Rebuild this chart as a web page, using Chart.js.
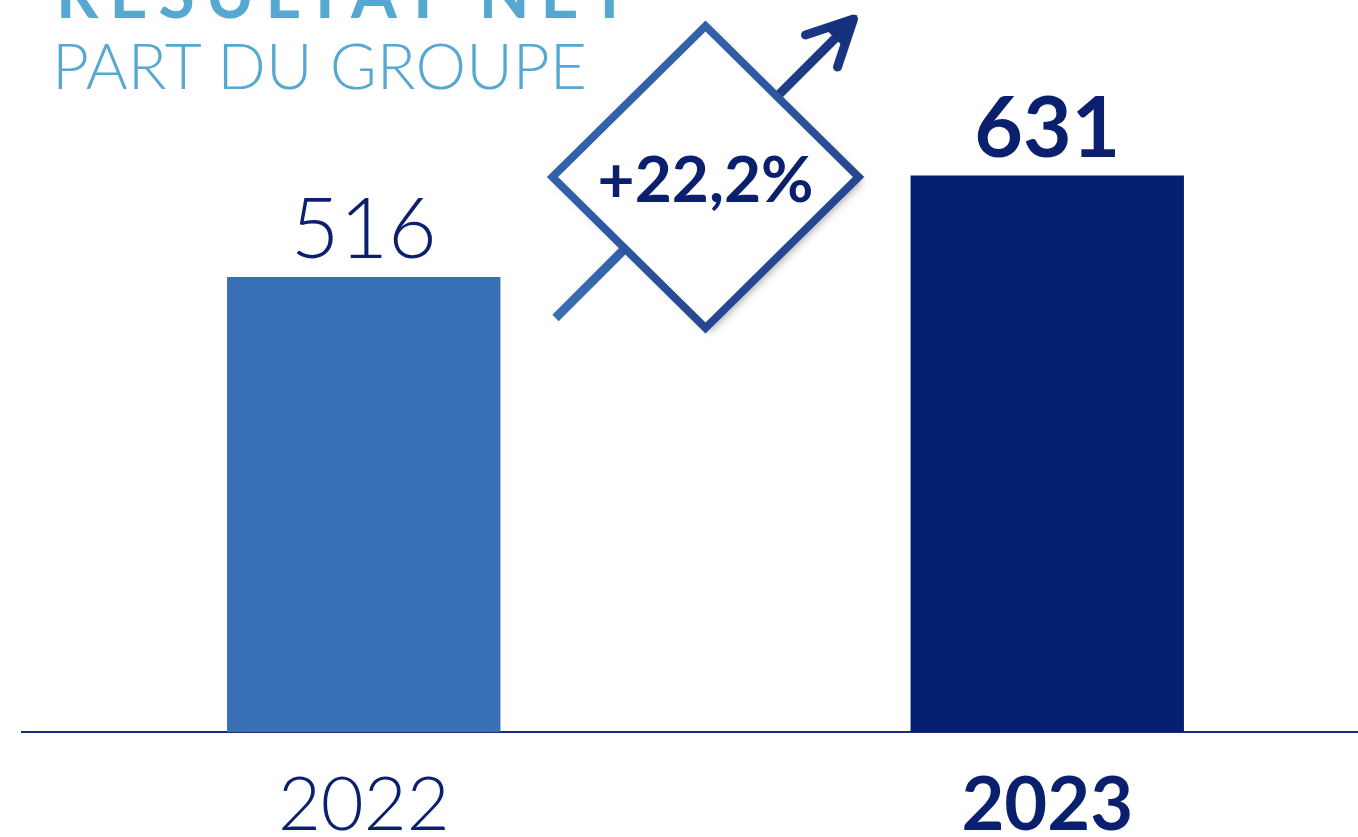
<!DOCTYPE html>
<html>
<head>
<meta charset="utf-8">
<script src="https://cdn.jsdelivr.net/npm/chart.js@4"></script>
<style>
  html, body { margin: 0; padding: 0; background: #fff; overflow: hidden; width: 1358px; height: 837px; }
  #wrap { position: relative; width: 1358px; height: 837px; overflow: hidden; }
  #myChart { position: absolute; left: 0; top: 0; }
  .t1 { position: absolute; left: 56px; top: -47px; font: 700 66px Lato, sans-serif; color: #56A8D0; letter-spacing: 11px; white-space: nowrap; }
  .t2 { position: absolute; left: 52px; top: 26px; font: 300 64px Lato, sans-serif; color: #56A8D0; letter-spacing: 0px; white-space: nowrap; }
</style>
</head>
<body>
<div id="wrap">
  <canvas id="myChart" width="1400" height="837"></canvas>
  <div class="t1">RÉSULTAT NET</div>
  <div class="t2">PART DU GROUPE</div>
</div>
<script>
let years = ['2022', '2023'];
let resultat = [516, 631];
let barColors = ['#396FB4', '#051F70'];
let growth = '+22,2%';

var navy = '#0A1F6E';

// value labels above each bar
let valueLabels = {
    id: 'valueLabels',
    afterDatasetsDraw(chart) {
        let ctx = chart.ctx;
        let meta = chart.getDatasetMeta(0);
        ctx.save();
        ctx.fillStyle = navy;
        ctx.textAlign = 'center';
        ctx.textBaseline = 'alphabetic';
        meta.data.forEach(function (bar, i) {
            ctx.font = (i == 1 ? '700 ' : '300 ') + '84px Lato, sans-serif';
            ctx.fillText(String(resultat[i]), bar.x, bar.y - 19);
        });
        ctx.restore();
    }
};

// diamond with arrow between the bars
let badge = {
    id: 'badge',
    afterDraw(chart) {
        let ctx = chart.ctx;
        let meta = chart.getDatasetMeta(0);
        let cx = (meta.data[0].x + meta.data[1].x) / 2;
        let cy = 177;
        let r = 151;
        ctx.save();

        // arrow
        let g = ctx.createLinearGradient(cx - 150, cy + 140, cx + 150, cy - 160);
        g.addColorStop(0, '#3A6FB4');
        g.addColorStop(1, '#17307E');
        ctx.strokeStyle = g;
        ctx.lineWidth = 9;
        ctx.lineCap = 'butt';
        ctx.beginPath();
        ctx.moveTo(cx - 150, cy + 141);
        ctx.lineTo(cx + 143, cy - 152);
        ctx.stroke();
        ctx.lineCap = 'round';
        ctx.lineJoin = 'round';
        ctx.beginPath();
        ctx.moveTo(cx + 100, cy - 142);
        ctx.lineTo(cx + 148, cy - 158);
        ctx.lineTo(cx + 132, cy - 110);
        ctx.stroke();
        ctx.fillStyle = '#17307E';
        ctx.beginPath();
        ctx.moveTo(cx + 152, cy - 162);
        ctx.lineTo(cx + 118, cy - 150);
        ctx.lineTo(cx + 140, cy - 128);
        ctx.closePath();
        ctx.fill();

        // diamond
        ctx.beginPath();
        ctx.moveTo(cx, cy - r);
        ctx.lineTo(cx + r + 2, cy);
        ctx.lineTo(cx, cy + r);
        ctx.lineTo(cx - r - 2, cy);
        ctx.closePath();
        ctx.shadowColor = 'rgba(0,0,0,0.35)';
        ctx.shadowBlur = 8;
        ctx.shadowOffsetX = 4;
        ctx.shadowOffsetY = 4;
        ctx.fillStyle = '#fff';
        ctx.fill();
        ctx.shadowColor = 'transparent';
        let g2 = ctx.createLinearGradient(cx - r, cy - r, cx + r, cy + r);
        g2.addColorStop(0, '#3A6FB4');
        g2.addColorStop(1, '#1E3A86');
        ctx.strokeStyle = g2;
        ctx.lineWidth = 8;
        ctx.lineJoin = 'miter';
        ctx.stroke();

        ctx.fillStyle = navy;
        ctx.font = '700 64px Lato, sans-serif';
        ctx.textAlign = 'center';
        ctx.textBaseline = 'alphabetic';
        ctx.fillText(growth, cx, cy + 25);
        ctx.restore();
    }
};

var ct = document.getElementById('myChart');
let chart = new Chart(ct, {
    type: 'bar',
    data: {
        labels: years,
        datasets: [{
            label: 'Résultat net',
            data: resultat,
            backgroundColor: barColors,
            borderWidth: 0,
            barPercentage: 0.4,
            categoryPercentage: 1
        }]
    },
    options: {
        responsive: false,
        devicePixelRatio: 1,
        animation: false,
        layout: { padding: { left: 22, right: 11, top: 0, bottom: 0 } },
        plugins: {
            legend: { display: false },
            tooltip: { enabled: false }
        },
        scales: {
            y: {
                display: false,
                min: 0,
                max: 830
            },
            x: {
                grid: { display: false, drawTicks: false },
                border: { display: true, color: '#1B2C7C', width: 2 },
                afterFit: function (scale) { scale.height = 105; },
                ticks: {
                    color: navy,
                    padding: 30,
                    font: function (c) {
                        return { family: 'Lato, sans-serif', size: 74, weight: c.index == 1 ? '700' : '300' };
                    }
                }
            }
        }
    },
    plugins: [valueLabels, badge]
});
</script>
</body>
</html>
